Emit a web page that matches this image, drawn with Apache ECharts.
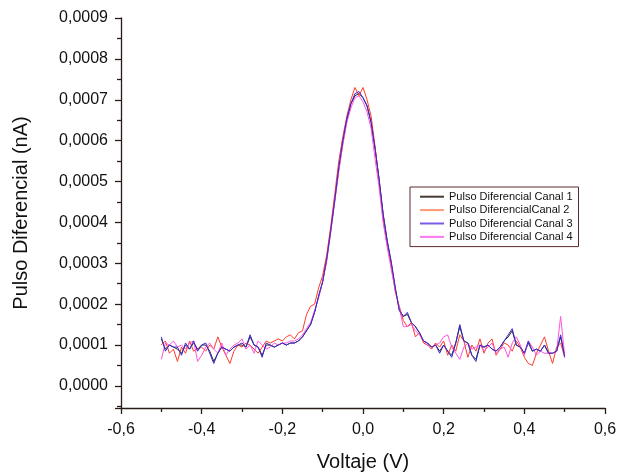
<!DOCTYPE html>
<html>
<head>
<meta charset="utf-8">
<script src="https://cdn.jsdelivr.net/npm/echarts@6/dist/echarts.min.js"></script>
<style>
html,body{margin:0;padding:0;background:#fff;}
#chart{width:618px;height:472px;}
</style>
</head>
<body>
<div id="chart"></div>
<script>
const voltaje = [
-0.50,-0.49,-0.48,-0.47,-0.46,-0.45,-0.44,-0.43,-0.42,-0.41,
-0.40,-0.39,-0.38,-0.37,-0.36,-0.35,-0.34,-0.33,-0.32,-0.31,
-0.30,-0.29,-0.28,-0.27,-0.26,-0.25,-0.24,-0.23,-0.22,-0.21,
-0.20,-0.19,-0.18,-0.17,-0.16,-0.15,-0.14,-0.13,-0.12,-0.11,
-0.10,-0.09,-0.08,-0.07,-0.06,-0.05,-0.04,-0.03,-0.02,-0.01,
0.00,0.01,0.02,0.03,0.04,0.05,0.06,0.07,0.08,0.09,
0.10,0.11,0.12,0.13,0.14,0.15,0.16,0.17,0.18,0.19,
0.20,0.21,0.22,0.23,0.24,0.25,0.26,0.27,0.28,0.29,
0.30,0.31,0.32,0.33,0.34,0.35,0.36,0.37,0.38,0.39,
0.40,0.41,0.42,0.43,0.44,0.45,0.46,0.47,0.48,0.49,
0.50];

const canal1 = [
1.15e-4,0.90e-4,1.00e-4,0.95e-4,0.90e-4,0.80e-4,1.00e-4,0.90e-4,1.05e-4,0.90e-4,
1.00e-4,1.00e-4,0.85e-4,0.60e-4,0.80e-4,0.95e-4,0.90e-4,0.85e-4,0.95e-4,1.00e-4,
1.00e-4,0.95e-4,1.20e-4,1.00e-4,0.95e-4,0.75e-4,1.00e-4,1.00e-4,0.95e-4,1.00e-4,
1.05e-4,1.00e-4,1.05e-4,1.05e-4,1.10e-4,1.20e-4,1.35e-4,1.50e-4,1.80e-4,2.20e-4,
2.55e-4,3.10e-4,3.80e-4,4.55e-4,5.30e-4,5.95e-4,6.50e-4,6.90e-4,7.10e-4,7.15e-4,
7.05e-4,6.85e-4,6.45e-4,5.80e-4,5.05e-4,4.20e-4,3.55e-4,3.00e-4,2.40e-4,1.85e-4,
1.70e-4,1.75e-4,1.55e-4,1.45e-4,1.30e-4,1.10e-4,1.05e-4,0.95e-4,1.00e-4,0.85e-4,
1.00e-4,0.85e-4,0.75e-4,1.05e-4,1.45e-4,1.10e-4,1.05e-4,0.75e-4,0.65e-4,1.00e-4,
0.95e-4,1.00e-4,0.90e-4,0.85e-4,0.95e-4,1.10e-4,1.20e-4,1.35e-4,1.00e-4,0.95e-4,
0.80e-4,1.05e-4,0.85e-4,0.90e-4,0.85e-4,1.00e-4,0.80e-4,0.80e-4,0.85e-4,1.20e-4,
0.75e-4];

const canal2 = [
1.00e-4,1.10e-4,0.80e-4,0.90e-4,0.60e-4,0.95e-4,0.80e-4,1.10e-4,0.85e-4,0.90e-4,
0.95e-4,0.85e-4,1.00e-4,0.90e-4,1.20e-4,0.95e-4,0.75e-4,0.55e-4,0.85e-4,1.00e-4,
0.95e-4,1.05e-4,1.00e-4,0.90e-4,0.80e-4,0.95e-4,1.10e-4,1.05e-4,1.10e-4,1.15e-4,
1.10e-4,1.20e-4,1.25e-4,1.15e-4,1.30e-4,1.35e-4,1.75e-4,1.95e-4,2.00e-4,2.40e-4,
2.70e-4,3.20e-4,3.90e-4,4.70e-4,5.50e-4,6.10e-4,6.60e-4,7.00e-4,7.30e-4,7.10e-4,
7.30e-4,7.00e-4,6.60e-4,5.85e-4,5.00e-4,4.05e-4,3.45e-4,2.95e-4,2.30e-4,1.95e-4,
1.60e-4,1.45e-4,1.55e-4,1.20e-4,1.30e-4,1.05e-4,1.00e-4,0.90e-4,1.05e-4,0.95e-4,
1.10e-4,0.75e-4,1.00e-4,0.85e-4,1.25e-4,1.10e-4,0.70e-4,1.00e-4,0.85e-4,1.15e-4,
0.80e-4,1.05e-4,1.15e-4,0.75e-4,0.90e-4,1.05e-4,1.00e-4,0.85e-4,1.10e-4,0.95e-4,
0.70e-4,0.55e-4,0.50e-4,0.80e-4,1.00e-4,1.20e-4,0.85e-4,0.55e-4,0.95e-4,1.05e-4,
0.70e-4];

const canal3 = [
1.20e-4,0.85e-4,1.00e-4,0.95e-4,0.95e-4,0.75e-4,1.05e-4,0.90e-4,1.10e-4,0.85e-4,
1.00e-4,1.05e-4,0.80e-4,0.55e-4,0.80e-4,0.95e-4,0.90e-4,0.85e-4,0.95e-4,1.00e-4,
1.05e-4,0.95e-4,1.25e-4,1.00e-4,0.95e-4,0.70e-4,1.05e-4,1.00e-4,0.95e-4,1.00e-4,
1.05e-4,1.00e-4,1.05e-4,1.05e-4,1.10e-4,1.20e-4,1.35e-4,1.50e-4,1.80e-4,2.20e-4,
2.55e-4,3.10e-4,3.80e-4,4.55e-4,5.35e-4,6.00e-4,6.55e-4,6.90e-4,7.15e-4,7.20e-4,
7.05e-4,6.85e-4,6.45e-4,5.80e-4,5.05e-4,4.20e-4,3.55e-4,3.05e-4,2.40e-4,1.85e-4,
1.70e-4,1.80e-4,1.55e-4,1.45e-4,1.30e-4,1.10e-4,1.05e-4,0.95e-4,1.00e-4,0.80e-4,
1.00e-4,0.85e-4,0.70e-4,1.05e-4,1.50e-4,1.10e-4,1.05e-4,0.75e-4,0.60e-4,1.00e-4,
0.95e-4,1.00e-4,0.90e-4,0.85e-4,0.95e-4,1.10e-4,1.25e-4,1.40e-4,1.00e-4,0.95e-4,
0.80e-4,1.10e-4,0.85e-4,0.90e-4,0.85e-4,1.00e-4,0.80e-4,0.80e-4,0.85e-4,1.25e-4,
0.70e-4];

const canal4 = [
0.65e-4,1.05e-4,1.00e-4,1.10e-4,0.95e-4,1.00e-4,0.90e-4,1.05e-4,1.10e-4,0.60e-4,
0.75e-4,0.95e-4,1.05e-4,0.90e-4,0.80e-4,1.05e-4,0.75e-4,0.90e-4,1.00e-4,1.05e-4,
1.15e-4,0.90e-4,1.00e-4,0.80e-4,1.10e-4,1.00e-4,0.90e-4,0.95e-4,1.05e-4,1.00e-4,
1.05e-4,1.05e-4,1.10e-4,1.10e-4,1.15e-4,1.25e-4,1.40e-4,1.55e-4,1.85e-4,2.15e-4,
2.55e-4,3.05e-4,3.75e-4,4.50e-4,5.25e-4,5.90e-4,6.45e-4,6.80e-4,7.05e-4,7.10e-4,
6.95e-4,6.70e-4,6.30e-4,5.55e-4,4.85e-4,4.00e-4,3.40e-4,2.85e-4,2.35e-4,1.90e-4,
1.45e-4,1.45e-4,1.50e-4,1.35e-4,1.25e-4,1.10e-4,1.00e-4,0.95e-4,1.00e-4,1.05e-4,
1.20e-4,1.25e-4,0.95e-4,0.80e-4,0.65e-4,0.95e-4,1.05e-4,0.90e-4,0.95e-4,1.00e-4,
0.85e-4,0.95e-4,1.05e-4,0.80e-4,0.90e-4,0.95e-4,0.70e-4,1.05e-4,1.20e-4,1.00e-4,
0.75e-4,1.10e-4,0.95e-4,0.75e-4,0.85e-4,0.80e-4,0.80e-4,0.80e-4,0.85e-4,1.70e-4,
0.75e-4];

const seriesNames = ['Pulso Diferencial Canal 1','Pulso DiferencialCanal 2','Pulso Diferencial Canal 3','Pulso Diferencial Canal 4'];
const legendColors = ['#4a3a36','#ff9a74','#7a5ae6','#ff77ee'];
const xTitle = 'Voltaje (V)';
const yTitle = 'Pulso Diferencial (nA)';

function pairs(ys){ return voltaje.map((x,i)=>[x, ys[i]]); }

const FONT = '"Liberation Sans", Arial, sans-serif';
const axisColor = '#2a1a18';

const chart = echarts.init(document.getElementById('chart'), null, {renderer:'canvas'});
chart.setOption({
  animation: false,
  backgroundColor: '#ffffff',
  textStyle: {fontFamily: FONT},
  grid: {left: 121, right: 13, top: 18, bottom: 64, containLabel: false, outerBoundsMode: 'none'},
  legend: {
    orient: 'vertical',
    left: 410, top: 187,
    data: seriesNames.map((n, i) => ({name: n, itemStyle: {color: legendColors[i]}})),
    icon: 'rect',
    itemWidth: 24, itemHeight: 2, itemGap: 0,
    padding: [3, 6, 3, 10],
    borderColor: '#5a2a2a', borderWidth: 1,
    backgroundColor: '#fff',
    textStyle: {fontFamily: FONT, fontSize: 11, lineHeight: 13.4, color: '#111'}
  },
  xAxis: {
    type: 'value', min: -0.6, max: 0.6, interval: 0.2,
    name: xTitle, nameLocation: 'middle', nameGap: 44,
    nameTextStyle: {fontFamily: FONT, fontSize: 20, color: '#111'},
    axisLine: {show: true, onZero: false, lineStyle: {color: axisColor, width: 1.3}},
    axisTick: {show: true, inside: false, length: 6, lineStyle: {color: axisColor, width: 1.3}},
    minorTick: {show: true, splitNumber: 2, length: 4, lineStyle: {color: axisColor, width: 1.3}},
    splitLine: {show: false},
    axisLabel: {fontFamily: FONT, fontSize: 16, color: '#111', margin: 14,
      formatter: v => { if (Math.abs(v) < 1e-9) v = 0; return v.toFixed(1).replace('.', ','); }}
  },
  yAxis: {
    type: 'value', min: -0.000054, max: 0.0009,
    minInterval: 0.0001, maxInterval: 0.0001, splitNumber: 9,
    name: yTitle, nameLocation: 'middle', nameGap: 90, nameRotate: 90,
    nameTextStyle: {fontFamily: FONT, fontSize: 20, color: '#111'},
    axisLine: {show: true, onZero: false, lineStyle: {color: axisColor, width: 1.3}},
    axisTick: {show: true, inside: false, length: 6, lineStyle: {color: axisColor, width: 1.3}},
    minorTick: {show: true, splitNumber: 2, length: 4, lineStyle: {color: axisColor, width: 1.3}},
    splitLine: {show: false},
    axisLabel: {fontFamily: FONT, fontSize: 16, color: '#111', margin: 13,
      formatter: v => { const k = Math.round(v / 1e-4); if (Math.abs(v - k * 1e-4) > 1e-9) return ''; return (k * 1e-4).toFixed(4).replace('.', ','); }}
  },
  series: [
    {name: seriesNames[0], type: 'line', data: pairs(canal1), showSymbol: false, symbol: 'none', color: '#2b2220', lineStyle: {width: 1, color: '#2b2220'}, z: 1},
    {name: seriesNames[1], type: 'line', data: pairs(canal2), showSymbol: false, symbol: 'none', color: '#ff3a2a', lineStyle: {width: 1, color: '#ff3a2a'}, z: 2},
    {name: seriesNames[3], type: 'line', data: pairs(canal4), showSymbol: false, symbol: 'none', color: '#ff55dd', lineStyle: {width: 1, color: '#ff55dd'}, z: 3},
    {name: seriesNames[2], type: 'line', data: pairs(canal3), showSymbol: false, symbol: 'none', color: '#3528d4', lineStyle: {width: 1, color: '#3528d4'}, z: 4}
  ]
});
</script>
</body>
</html>
